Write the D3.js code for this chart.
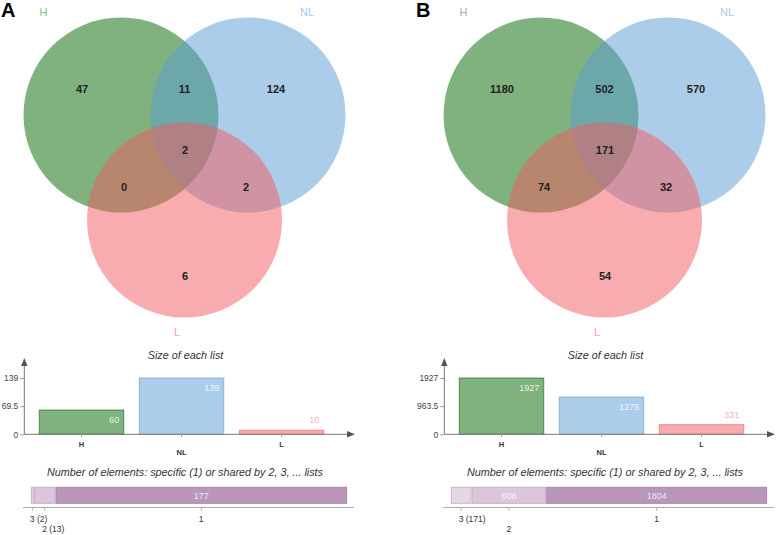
<!DOCTYPE html>
<html><head><meta charset="utf-8">
<script src="https://cdn.jsdelivr.net/npm/d3@7"></script>
<style>body{margin:0;background:#fff}svg{display:block;font-family:"Liberation Sans",Arial,sans-serif}</style>
</head><body><svg id="c" width="778" height="535"></svg>
<script>
// ---- data ----
const panelLetters = ["A", "B"];
const setNames = ["H", "NL", "L"];
const setColors = ["#006600", "#5a9bd4", "#f15a60"];
const setLabelColors = ["#8cbf8c", "#a9c9ea", "#f3a3a8"];
const regionKeys = ["H", "H&NL", "NL", "H&NL&L", "H&L", "NL&L", "L"];
const vennA = [47, 11, 124, 2, 0, 2, 6];
const vennB = [1180, 502, 570, 171, 74, 32, 54];
const sizesA = [60, 139, 10];
const sizesB = [1927, 1275, 331];
const yTicksA = [0, 69.5, 139];
const yTicksB = [0, 963.5, 1927];
const sharedKeys = ["3", "2", "1"];
const sharedA = [2, 13, 177];
const sharedB = [171, 608, 1804];
const sharedColors = ["#e5d6e5", "#dcc6dc", "#bb96bb"];
const sharedStroke = ["#c8b6c8", "#c8b0c8", "#a886a8"];

const svg = d3.select("#c");

function arrow(g, tip, dir, color) {
  const [tx, ty] = tip;
  const pts = dir === "up"
    ? [[tx, ty], [tx - 3.2, ty + 8], [tx + 3.2, ty + 8]]
    : [[tx, ty], [tx - 8, ty - 3.2], [tx - 8, ty + 3.2]];
  g.append("path").attr("d", "M" + pts.map(p => p.join(",")).join("L") + "Z").attr("fill", color);
}

function drawPanel(i, venn, sizes, yTicks, shared) {
  const ox = i * 420;
  const g = svg.append("g").attr("transform", `translate(${ox},0)`);

  // ---- Venn ----
  const C = [[121, 115], [248, 115], [184.5, 220]], R = 97.5;
  g.selectAll("circle.set").data(setNames).join("circle").attr("class", "set")
    .attr("cx", (d, j) => C[j][0]).attr("cy", (d, j) => C[j][1]).attr("r", R)
    .attr("fill", (d, j) => setColors[j]).attr("fill-opacity", 0.5);

  const pos = {
    "H": [C[0][0] - 39, C[0][1] - 26],
    "H&NL": [(C[0][0] + C[1][0]) / 2, C[0][1] - 26],
    "NL": [C[1][0] + 28, C[1][1] - 26],
    "H&NL&L": [C[2][0] + 0.5, C[0][1] + 35],
    "H&L": [C[0][0] + 3, C[2][1] - 33],
    "NL&L": [C[1][0] - 2, C[2][1] - 33],
    "L": [C[2][0] + 0.5, C[2][1] + 56]
  };
  g.selectAll("text.reg").data(regionKeys).join("text").attr("class", "reg")
    .attr("x", d => pos[d][0]).attr("y", d => pos[d][1]).attr("dy", "0.35em")
    .attr("text-anchor", "middle").attr("font-size", 11).attr("font-weight", "bold")
    .attr("fill", "#222").text((d, j) => venn[j]);

  const lpos = [[C[0][0] - 77.5, 12], [C[1][0] + 59, 12], [C[2][0] - 7.5, 332]];
  g.selectAll("text.setl").data(setNames).join("text").attr("class", "setl")
    .attr("x", (d, j) => lpos[j][0]).attr("y", (d, j) => lpos[j][1]).attr("dy", "0.35em")
    .attr("text-anchor", "middle").attr("font-size", 11)
    .attr("fill", (d, j) => setLabelColors[j]).text(d => d);

  // ---- Size of each list ----
  const base = 434.3;
  const x = d3.scaleBand().domain(setNames).range([31.5, 331.5]).paddingInner(0.155).paddingOuter(0.0775);
  const y = d3.scaleLinear().domain([0, d3.max(yTicks)]).range([base, 378]);

  g.append("text").attr("x", 185.5).attr("y", 359).attr("text-anchor", "middle")
    .attr("font-size", 10.8).attr("font-style", "italic").attr("fill", "#333").text("Size of each list");

  const ya = g.append("g").attr("transform", "translate(24.3,0)")
    .call(d3.axisLeft(y).tickValues(yTicks).tickSize(4).tickPadding(2).tickFormat(d => String(d)));
  ya.select(".domain").remove();
  ya.selectAll(".tick line").attr("stroke", "#999");
  ya.selectAll(".tick text").attr("font-size", 8.5).attr("fill", "#444").attr("font-family", null);

  g.selectAll("rect.bar").data(setNames).join("rect").attr("class", "bar")
    .attr("x", d => x(d)).attr("width", x.bandwidth())
    .attr("y", (d, j) => y(sizes[j])).attr("height", (d, j) => base - y(sizes[j]))
    .attr("fill", (d, j) => setColors[j]).attr("fill-opacity", 0.5)
    .attr("stroke", (d, j) => setColors[j]).attr("stroke-opacity", 0.6);

  g.selectAll("text.val").data(setNames).join("text").attr("class", "val")
    .attr("x", d => x(d) + x.bandwidth() - 4.5)
    .attr("y", (d, j) => (base - y(sizes[j]) > 20 ? y(sizes[j]) + 10 : y(sizes[j]) - 10))
    .attr("dy", "0.35em").attr("text-anchor", "end").attr("font-size", 9)
    .attr("fill", (d, j) => (base - y(sizes[j]) > 20 ? "#ffffff" : setColors[j]))
    .attr("fill-opacity", (d, j) => (base - y(sizes[j]) > 20 ? 0.85 : 0.5))
    .text((d, j) => sizes[j]);

  // axes
  g.append("line").attr("x1", 24.3).attr("x2", 350).attr("y1", base).attr("y2", base).attr("stroke", "#777");
  arrow(g, [355, base], "right", "#555");
  g.append("line").attr("x1", 24.3).attr("x2", 24.3).attr("y1", base).attr("y2", 362).attr("stroke", "#777");
  arrow(g, [24.3, 358], "up", "#555");
  g.selectAll("line.ct").data(setNames).join("line").attr("class", "ct")
    .attr("x1", d => x(d) + x.bandwidth() / 2).attr("x2", d => x(d) + x.bandwidth() / 2)
    .attr("y1", base).attr("y2", base + 3).attr("stroke", "#aaa");
  g.selectAll("text.cat").data(setNames).join("text").attr("class", "cat")
    .attr("x", d => x(d) + x.bandwidth() / 2).attr("y", (d, j) => (j % 2 ? 452 : 444)).attr("dy", "0.35em")
    .attr("text-anchor", "middle").attr("font-size", 7.5).attr("font-weight", "bold").attr("fill", "#333").text(d => d);

  // ---- shared counts ----
  g.append("text").attr("x", 185).attr("y", 476).attr("text-anchor", "middle")
    .attr("font-size", 10.8).attr("font-style", "italic").attr("fill", "#333")
    .text("Number of elements: specific (1) or shared by 2, 3, ... lists");

  const xs = d3.scaleLinear().domain([0, d3.sum(shared)]).range([30.7, 347.2]);
  const starts = shared.map((v, j) => d3.sum(shared.slice(0, j)));
  const segW = j => xs(starts[j] + shared[j]) - xs(starts[j]);
  const segC = j => (xs(starts[j]) + xs(starts[j] + shared[j])) / 2;

  g.selectAll("rect.seg").data(sharedKeys).join("rect").attr("class", "seg")
    .attr("x", (d, j) => xs(starts[j]) + 0.6).attr("width", (d, j) => Math.max(0.5, segW(j) - 1.2))
    .attr("y", 487.3).attr("height", 16)
    .attr("fill", (d, j) => sharedColors[j]).attr("stroke", (d, j) => sharedStroke[j]).attr("stroke-width", 1);

  g.selectAll("text.segv").data(sharedKeys.filter((d, j) => segW(j) >= 30)).join("text").attr("class", "segv")
    .attr("x", d => segC(sharedKeys.indexOf(d))).attr("y", 495.5).attr("dy", "0.35em")
    .attr("text-anchor", "middle").attr("font-size", 9).attr("fill", "#fff").attr("fill-opacity", 0.8)
    .text(d => shared[sharedKeys.indexOf(d)]);

  g.append("line").attr("x1", 23).attr("x2", 354).attr("y1", 507.5).attr("y2", 507.5).attr("stroke", "#aaa");
  g.selectAll("line.st").data(sharedKeys).join("line").attr("class", "st")
    .attr("x1", (d, j) => segC(j)).attr("x2", (d, j) => segC(j))
    .attr("y1", 507.5).attr("y2", 511).attr("stroke", "#bbb");
  g.selectAll("text.sl").data(sharedKeys).join("text").attr("class", "sl")
    .attr("x", (d, j) => segC(j) - 2.5).attr("y", (d, j) => (j % 2 ? 532 : 522))
    .attr("text-anchor", "start").attr("font-size", 8.5).attr("fill", "#333")
    .text((d, j) => d + (segW(j) < 30 ? ` (${shared[j]})` : ""));
}

drawPanel(0, vennA, sizesA, yTicksA, sharedA);
drawPanel(1, vennB, sizesB, yTicksB, sharedB);

svg.selectAll("text.letter").data(panelLetters).join("text").attr("class", "letter")
  .attr("x", (d, j) => (j ? 416 : 1)).attr("y", 16.7)
  .attr("font-size", 20).attr("font-weight", "bold").attr("fill", "#000").text(d => d);
</script>
</body></html>
